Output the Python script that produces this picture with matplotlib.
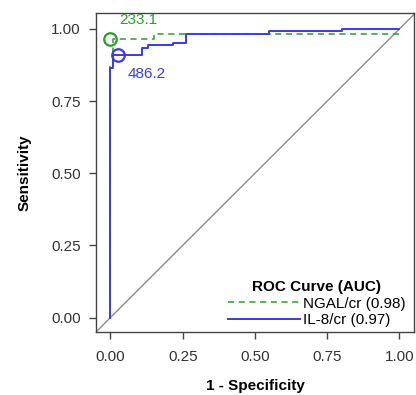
import matplotlib.pyplot as plt

plt.rcParams['font.family'] = ['Liberation Sans', 'DejaVu Sans']

# ROC curves (1 - specificity, sensitivity)
ngal_fpr = [0.0, 0.0, 0.008, 0.008, 0.15, 0.15, 1.0, 1.0]
ngal_tpr = [0.0, 0.88, 0.88, 0.965, 0.965, 0.983, 0.983, 1.0]

il8_fpr = [0.0, 0.0, 0.008, 0.008, 0.11, 0.11, 0.13, 0.13, 0.215, 0.215,
           0.26, 0.26, 0.55, 0.55, 0.80, 0.80, 1.0]
il8_tpr = [0.0, 0.865, 0.865, 0.91, 0.91, 0.934, 0.934, 0.945, 0.945, 0.952,
           0.952, 0.983, 0.983, 0.993, 0.993, 1.0, 1.0]

# optimal cut-off points and their thresholds
ngal_cut = (0.0, 0.965, "233.1")
il8_cut = (0.025, 0.91, "486.2")

green = '#2e9a2e'
blue = '#3a3ae6'

fig = plt.figure(figsize=(4.16, 3.95), dpi=100)
ax = fig.add_axes([0.2308, 0.1595, 0.7642, 0.8075])

ax.axline((0, 0), (1, 1), color='#8c8c8c', lw=1.0, zorder=1)
ax.plot(ngal_fpr, ngal_tpr, color=green, lw=1.1, ls=(0, (4, 3)),
        label='NGAL/cr (0.98)', zorder=2)
ax.plot(il8_fpr, il8_tpr, color=blue, lw=1.4, label='IL-8/cr (0.97)', zorder=3)

ax.plot(ngal_cut[0], ngal_cut[1], 'o', mfc='none', mec=green, ms=9, mew=1.6, zorder=4)
ax.plot(il8_cut[0], il8_cut[1], 'o', mfc='none', mec=blue, ms=9, mew=1.6, zorder=4)
ax.text(ngal_cut[0] + 0.03, ngal_cut[1] + 0.065, ngal_cut[2], color=green,
        fontsize=11, ha='left', va='center')
ax.text(il8_cut[0] + 0.035, il8_cut[1] - 0.065, il8_cut[2], color=blue,
        fontsize=11, ha='left', va='center')

ax.set_xlim(-0.05, 1.05)
ax.set_ylim(-0.05, 1.055)
ticks = [0.0, 0.25, 0.5, 0.75, 1.0]
ax.set_xticks(ticks)
ax.set_yticks(ticks)
ax.set_xticklabels([f"{t:.2f}" for t in ticks])
ax.set_yticklabels([f"{t:.2f}" for t in ticks])
ax.tick_params(length=5, width=1, color='#444444', labelsize=11,
               labelcolor='#333333', pad=6)
ax.tick_params(axis='x', pad=8)
for sp in ax.spines.values():
    sp.set_color('#444444')
    sp.set_linewidth(1.0)

ax.set_xlabel("1 - Specificity", fontsize=11, fontweight='bold', labelpad=11)
ax.set_ylabel("Sensitivity", fontsize=11, fontweight='bold', labelpad=14)

leg = ax.legend(title="ROC Curve (AUC)", loc='lower right', bbox_to_anchor=(1.005, -0.015),
                frameon=False, fontsize=11, handlelength=4.7, handletextpad=0.2,
                labelspacing=0.15, borderaxespad=0.25)
leg.get_title().set_fontweight('bold')
leg.get_title().set_fontsize(11)

fig.savefig("out.png", dpi=100)
